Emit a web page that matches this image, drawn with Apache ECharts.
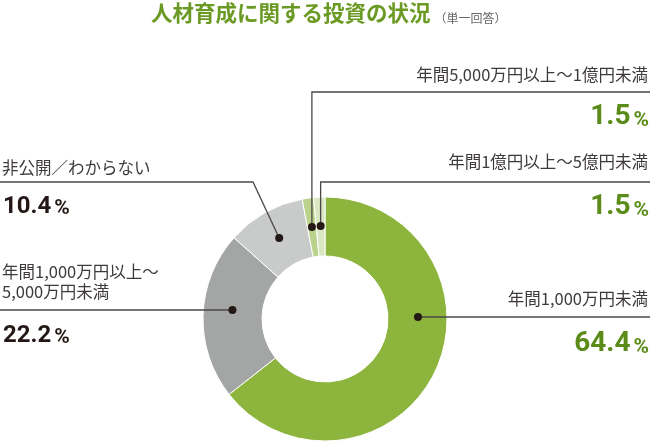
<!DOCTYPE html>
<html>
<head>
<meta charset="utf-8">
<script src="https://cdn.jsdelivr.net/npm/echarts@6/dist/echarts.min.js"></script>
<style>
html, body { margin: 0; padding: 0; background: #fff; }
#main { width: 650px; height: 443px; }
</style>
</head>
<body>
<div id="main"></div>
<script>
// data
var categories = ['年間1,000万円未満', '年間1,000万円以上〜\n5,000万円未満', '非公開／わからない', '年間5,000万円以上〜1億円未満', '年間1億円以上〜5億円未満'];
var values = [64.4, 22.2, 10.4, 1.5, 1.5];
var titleText = '人材育成に関する投資の状況';
var subTitleText = '（単一回答）';

// styles
var sliceColors = ['#8db43c', '#a4a5a5', '#c9caca', '#bad28c', '#d9e6c2'];
var numColors = ['#5b8c1a', '#231815', '#231815', '#5b8c1a', '#5b8c1a'];
var cx = 325, cy = 319, rIn = 63, rOut = 122, rMid = 93;

// label placement: side, y of label text, y of leader line, y of number, bend point
var labelPos = [
  { side: 'right', textY: 299, lineY: 317, numY: 343, flat: true },
  { side: 'left', textY: 282, lineY: 310, numY: 333, flat: true },
  { side: 'left', textY: 168, lineY: 182, numY: 204, bendX: 253 },
  { side: 'right', textY: 75, lineY: 92, numY: 116 },
  { side: 'right', textY: 162, lineY: 182, numY: 206 }
];

var myChart = echarts.init(document.getElementById('main'));

var total = 0;
values.forEach(function (v) { total += v; });

var graphics = [];
graphics.push({
  type: 'text', x: 151, y: 12,
  style: {
    text: '{t|' + titleText + '}{s|' + subTitleText + '}',
    align: 'left', verticalAlign: 'middle',
    rich: {
      t: { fontSize: 21.5, fontWeight: 'bold', fontFamily: 'Noto Sans CJK JP', fill: '#6b9a24', verticalAlign: 'bottom', lineHeight: 24 },
      s: { fontSize: 12, fontFamily: 'Noto Sans CJK JP', fill: '#666', verticalAlign: 'bottom', lineHeight: 22, padding: [0, 0, 0, 4] }
    }
  }
});

var acc = 0;
values.forEach(function (v, i) {
  var mid = (acc + v / 2) / total * Math.PI * 2;
  acc += v;
  var p = labelPos[i];
  var dx, dy;
  if (p.flat) {
    dy = p.lineY;
    var h = Math.sqrt(rMid * rMid - (cy - dy) * (cy - dy));
    dx = p.side === 'right' ? cx + h : cx - h;
  } else {
    dx = cx + rMid * Math.sin(mid);
    dy = cy - rMid * Math.cos(mid);
  }
  var pts;
  var edge = p.side === 'right' ? 650 : 0;
  if (p.flat) {
    pts = [[dx, dy], [edge, dy]];
  } else if (p.bendX != null) {
    pts = [[dx, dy], [p.bendX, p.lineY], [edge, p.lineY]];
  } else {
    pts = [[dx, dy], [dx, p.lineY], [edge, p.lineY]];
  }
  graphics.push({
    type: 'polyline', z: 10,
    shape: { points: pts },
    style: { stroke: '#4a4747', lineWidth: 1.3, fill: null }
  });
  graphics.push({
    type: 'circle', z: 11,
    shape: { cx: dx, cy: dy, r: 4 },
    style: { fill: '#231815' }
  });
  var tx = p.side === 'right' ? 648 : 2;
  graphics.push({
    type: 'text', x: tx, y: p.textY, z: 11,
    style: {
      text: categories[i],
      align: p.side, verticalAlign: 'middle',
      fontSize: 16.5, fontFamily: 'Noto Sans CJK JP', fill: '#3e3a39',
      lineHeight: 20
    }
  });
  var big = p.side === 'right';
  graphics.push({
    type: 'text', x: big ? 649 : 3, y: p.numY, z: 11,
    style: {
      text: '{n|' + v.toFixed(1) + '}{p|%}',
      align: p.side, verticalAlign: 'middle',
      rich: {
        n: { fontSize: big ? 28 : 24, fontWeight: 'bold', fontFamily: 'Roboto', fill: numColors[i], verticalAlign: 'bottom', lineHeight: 30 },
        p: { fontSize: 21, fontWeight: 'bold', fontFamily: 'Roboto', fill: numColors[i], verticalAlign: 'bottom', lineHeight: big ? 29 : 29.5, padding: [0, 0, 0, 3] }
      }
    }
  });
});

var option = {
  animation: false,
  color: sliceColors,
  series: [
    {
      type: 'pie',
      center: [cx, cy],
      radius: [rIn, rOut],
      startAngle: 90,
      clockwise: true,
      silent: true,
      label: { show: false },
      labelLine: { show: false },
      itemStyle: { borderColor: '#fff', borderWidth: 1 },
      data: categories.map(function (c, i) {
        return { name: c, value: values[i] };
      })
    }
  ],
  graphic: graphics
};
myChart.setOption(option);

window.onresize = function () {
  myChart.resize();
};
</script>
</body>
</html>
